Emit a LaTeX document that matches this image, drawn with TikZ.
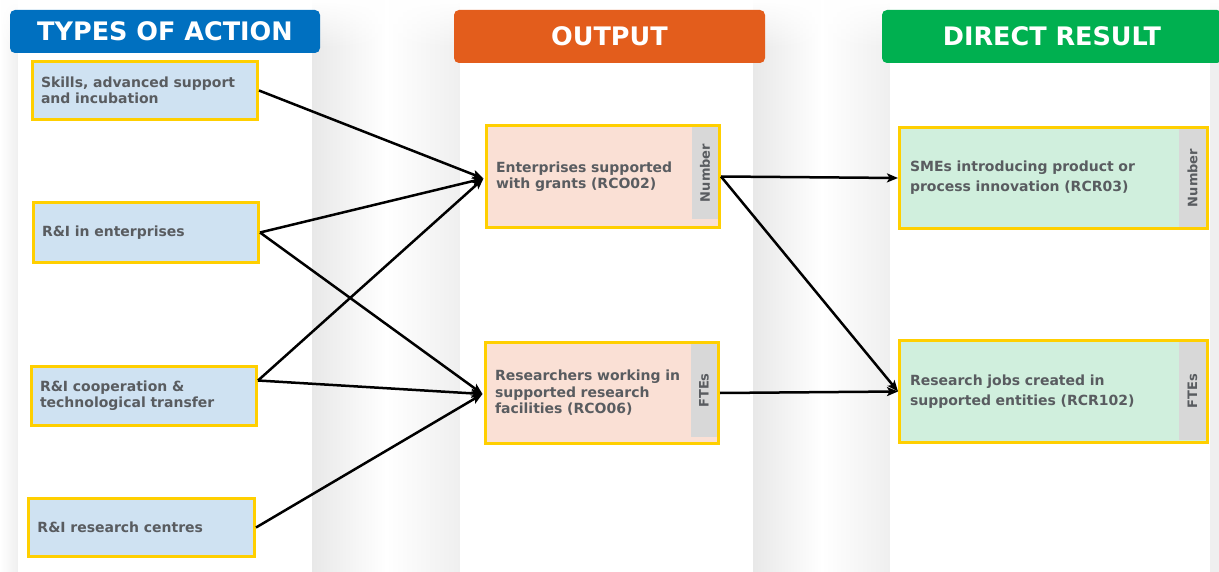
\documentclass[tikz,border=0pt]{standalone}
\usepackage{fontspec}
\setmainfont{DejaVu Sans}
\usetikzlibrary{arrows.meta,fadings}

\definecolor{hdrblue}{HTML}{0070C0}
\definecolor{hdrorange}{HTML}{E35D1C}
\definecolor{hdrgreen}{HTML}{00B050}
\definecolor{frameyellow}{HTML}{FFCF00}
\definecolor{fillblue}{HTML}{CFE2F2}
\definecolor{fillpeach}{HTML}{FAE0D5}
\definecolor{fillmint}{HTML}{D0EFDD}
\definecolor{stripgray}{HTML}{D8D8D8}
\definecolor{inkgray}{HTML}{595C60}
\definecolor{gapdark}{HTML}{E8E8E8}
\definecolor{gaplight}{HTML}{EFEFEF}

% white veil that thins out downwards
\tikzfading[name=veil down, top color=transparent!0, bottom color=transparent!100]

\begin{document}
\begin{tikzpicture}[x=1pt,y=-1pt,
  header/.style={fill=#1, rounded corners=5pt, text=white, inner sep=0pt,
    font=\fontsize{25.5}{28}\selectfont\bfseries},
  itembox/.style={draw=frameyellow, line width=3pt, fill=#1, inner ysep=0pt,
    align=left, text=inkgray, font=\fontsize{14}{16.5}\selectfont\bfseries},
  resbox/.style={itembox=fillmint, font=\fontsize{14}{20}\selectfont\bfseries},
  unitstrip/.style={fill=stripgray, inner sep=0pt, outer sep=0pt, anchor=north east,
    text=inkgray, font=\fontsize{13}{15}\selectfont\bfseries},
  link/.style={line width=2.5pt, -{Stealth[length=11pt,width=9pt,inset=2.5pt]}},
  gap/.style={left color=gapdark, right color=gaplight, middle color=white}
]
\useasboundingbox (0,0) rectangle (1219,572);
\clip (0,0) rectangle (1219,572);

% page background and column shadows
\fill[white] (0,0) rectangle (1219,572);
\shade[left color=white, right color=gaplight] (0,0) rectangle (18,572);
\shade[gap] (312,0) rectangle (460,572);
\shade[gap] (753,0) rectangle (890,572);
\fill[gaplight] (1210,0) rectangle (1219,572);
\fill[white, path fading=veil down] (0,0) rectangle (1219,48);

% white column panels
\fill[white] (18,0) rectangle (312,572);
\fill[white] (460,0) rectangle (753,572);
\fill[white] (890,0) rectangle (1210,572);

% column headers
\node[header=hdrblue, minimum width=310pt, minimum height=43pt] (h1) at (165,31.5) {TYPES OF ACTION};
\node[header=hdrorange, minimum width=311pt, minimum height=53pt] (h2) at (609.5,36.5) {OUTPUT};
\node[header=hdrgreen, minimum width=340pt, minimum height=53pt] (h3) at (1052,36.5) {DIRECT RESULT};

% types of action
\node[itembox=fillblue, inner xsep=8.5pt, text width=208pt, minimum width=225pt, minimum height=58pt]
  (a1) at (145,90.5) {Skills, advanced support\\and incubation};
\node[itembox=fillblue, inner xsep=8.5pt, text width=208pt, minimum width=225pt, minimum height=60pt]
  (a2) at (146,232.5) {R\&I in enterprises};
\node[itembox=fillblue, inner xsep=8.5pt, text width=208pt, minimum width=225pt, minimum height=59pt]
  (a3) at (144,395.5) {R\&I cooperation \&\\technological transfer};
\node[itembox=fillblue, inner xsep=8.5pt, text width=208pt, minimum width=226pt, minimum height=58pt,
  text depth=0pt] (a4) at (141.5,527.5) {R\&I research centres};

% outputs
\node[itembox=fillpeach, inner xsep=9.5pt, text width=214pt, minimum width=233pt, minimum height=102pt]
  (o1) at (603,176.5) {Enterprises supported\\with grants (RCO02)};
\node[unitstrip, minimum width=26pt, minimum height=92pt] (o1u)
  at ([xshift=-3pt,yshift=-3pt]o1.north east) {\rotatebox{90}{Number}};
\node[itembox=fillpeach, inner xsep=9.5pt, text width=214pt, minimum width=233pt, minimum height=101pt]
  (o2) at (602,393) {Researchers working in\\supported research\\facilities (RCO06)};
\node[unitstrip, minimum width=26pt, minimum height=93pt] (o2u)
  at ([xshift=-3pt,yshift=-3pt]o2.north east) {\rotatebox{90}{FTEs}};

% direct results
\node[resbox, inner xsep=10.5pt, text width=287pt, minimum width=308pt, minimum height=101pt]
  (r1) at (1053.5,178) {SMEs introducing product or\\process innovation (RCR03)};
\node[unitstrip, minimum width=27pt, minimum height=98pt] (r1u)
  at ([xshift=-3pt,yshift=-3pt]r1.north east) {\rotatebox{90}{Number}};
\node[resbox, inner xsep=10.5pt, text width=287pt, minimum width=308pt, minimum height=102pt]
  (r2) at (1053.5,391.5) {Research jobs created in\\supported entities (RCR102)};
\node[unitstrip, minimum width=27pt, minimum height=98pt] (r2u)
  at ([xshift=-3pt,yshift=-3pt]r2.north east) {\rotatebox{90}{FTEs}};

% connector end points
\coordinate (o1in) at ([xshift=-1.5pt,yshift=-2pt]o1.west);
\coordinate (o2in) at ([xshift=-1.5pt,yshift=-1pt]o2.west);
\coordinate (a3out) at ([yshift=15pt]a3.east);

% links
\draw[link] (a1.east) -- (o1in);
\draw[link] (a2.east) -- (o1in);
\draw[link] (a2.east) -- (o2in);
\draw[link] (a3out) -- (o1in);
\draw[link] (a3out) -- (o2in);
\draw[link] (a4.east) -- (o2in);
\draw[link] (o1.east) -- (r1.west);
\draw[link] (o1.east) -- (r2.west);
\draw[link] (o2.east) -- (r2.west);
\end{tikzpicture}
\end{document}
